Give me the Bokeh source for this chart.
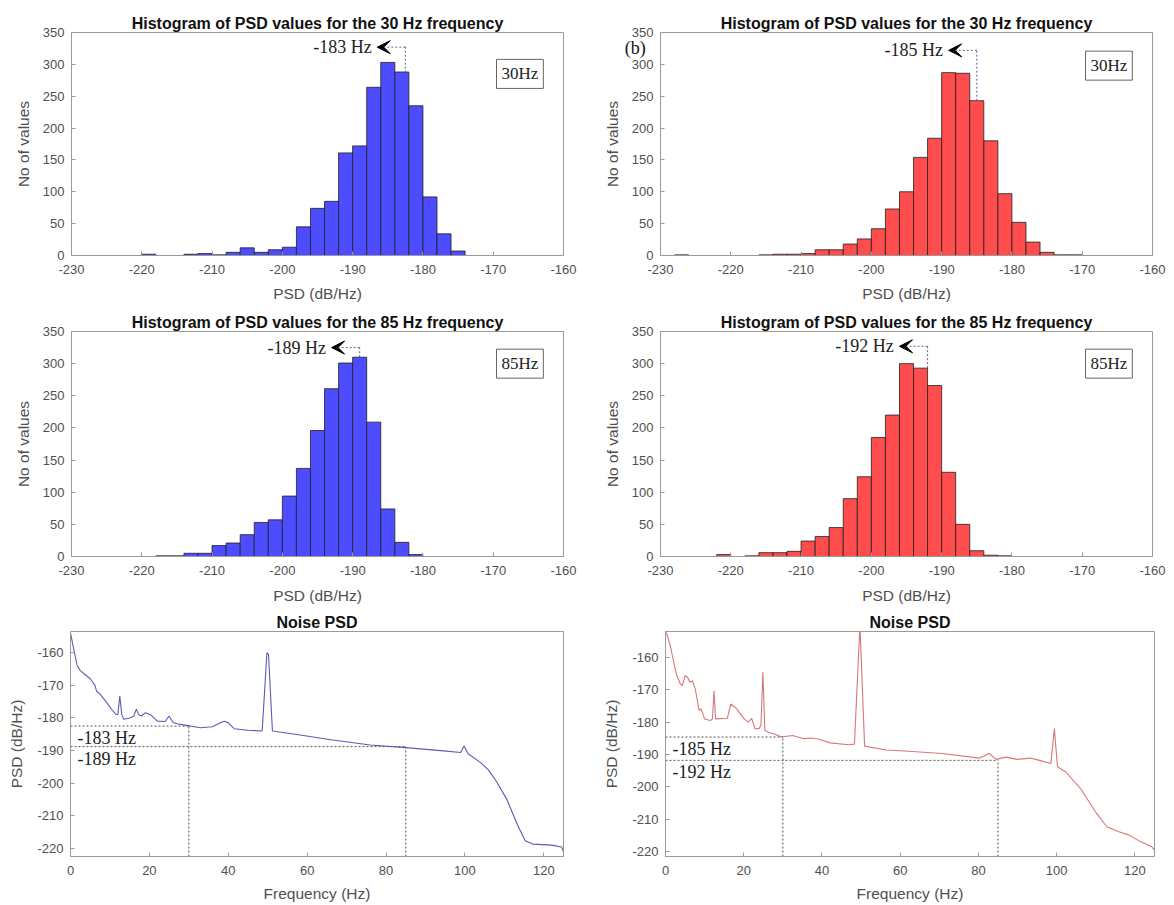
from bokeh.plotting import figure
from bokeh.models import Range1d, Label, Arrow, VeeHead, FixedTicker
from bokeh.layouts import column, row
from bokeh.embed import file_html
from bokeh.resources import INLINE

# ---------------- data ----------------
# histogram bins (left edges, width 2 dB) and counts
bins_30_a = [-220, -214, -212, -210, -208, -206, -204, -202, -200, -198, -196, -194, -192, -190,
             -188, -186, -184, -182, -180, -178, -176]
counts_30_a = [2, 2, 3, 1, 5, 12, 5, 9, 13, 45, 74, 85, 161, 172, 264, 303, 288, 235, 92, 34, 7]

bins_30_b = [-228, -216, -214, -212, -210, -208, -206, -204, -202, -200, -198, -196, -194, -192,
             -190, -188, -186, -184, -182, -180, -178, -176, -174, -172]
counts_30_b = [1, 1, 2, 2, 3, 9, 9, 18, 26, 42, 73, 100, 154, 184, 287, 286, 243, 180, 97, 52, 21,
               5, 1, 1]

bins_85_a = [-218, -216, -214, -212, -210, -208, -206, -204, -202, -200, -198, -196, -194, -192,
             -190, -188, -186, -184, -182]
counts_85_a = [1, 1, 5, 5, 17, 21, 34, 53, 57, 94, 137, 196, 261, 301, 310, 209, 74, 22, 3]

bins_85_b = [-222, -218, -216, -214, -212, -210, -208, -206, -204, -202, -200, -198, -196, -194,
             -192, -190, -188, -186, -184, -182]
counts_85_b = [3, 1, 6, 6, 8, 24, 31, 45, 90, 124, 185, 220, 300, 293, 266, 131, 50, 9, 2, 1]

bin_width = 2

# peak annotations: label, marker x, bar top under marker, arrow height
peak_labels = ["-183 Hz", "-185 Hz", "-189 Hz", "-192 Hz"]
peak_x = [-182.5, -185.0, -189.0, -192.0]
peak_bar = [287, 243, 310, 293]
peak_arrow_y = [327, 322, 325, 327]
box_labels = ["30Hz", "30Hz", "85Hz", "85Hz"]
box_y = [285, 298, 300, 300]

# noise PSD curves
freq_a = [0, 0.5, 1, 1.7, 2.5, 3.6, 5, 6.2, 6.6, 7.2, 8, 9.2, 10.5, 11.5, 12, 12.5, 13, 13.5, 15, 16,
          16.7, 17.3, 18, 19, 20.5, 22, 24, 25, 26, 27, 29, 33, 36, 38, 39, 40, 41.5, 45, 48.6, 49.8,
          50.2, 51.2, 57, 66, 76, 85, 94.6, 98.9, 99.8, 100.8, 104, 106, 108, 110.6, 113.4, 115.3,
          117.2, 122, 124.5, 125]
psd_a = [-153.9, -157, -160, -164, -165.5, -166.6, -168, -170, -171.8, -172.3, -173.5, -175.3, -177.5,
         -178.9, -179, -173.3, -179, -180.4, -180, -179.5, -177.3, -179, -179.4, -178.4, -179.2, -181,
         -181.1, -179.4, -181.4, -181.8, -182.2, -183, -182.7, -181.5, -181, -181.5, -183.3, -183.8,
         -184, -160, -160.5, -184, -185, -186.7, -188.3, -189.1, -190.1, -190.6, -188.6, -191, -193.7,
         -196, -199.5, -204.9, -213, -217.7, -218.7, -219, -219.6, -221]

freq_b = [0.2, 1, 1.4, 2.1, 2.9, 3.8, 4.3, 5, 5.7, 6.2, 6.9, 7.6, 8.6, 9.1, 10, 11.5, 12, 12.4, 12.8,
          15.8, 16.7, 18.2, 20.1, 21.2, 22, 22.9, 23.9, 24.4, 24.9, 25.4, 26.3, 27.7, 29.6, 32.5, 35.4,
          37.3, 39.2, 42.1, 46.8, 48.3, 49.7, 50.9, 56.4, 61.2, 70.7, 80.3, 82.7, 84.6, 87, 89.9, 93.2,
          95.6, 98.5, 99.4, 100.2, 102.3, 106.1, 109.9, 112.8, 115.7, 118.5, 121.4, 124.3, 125]
psd_b = [-152.3, -155.4, -157.4, -161.5, -165.6, -168.2, -168.7, -165.6, -166.2, -167.7, -167.2, -169.7,
         -176.4, -175.9, -179, -179.5, -179, -170.3, -179, -178.8, -174.4, -175.9, -179, -180, -178.8,
         -182, -182, -181, -164.6, -182.6, -183.1, -183.6, -184.6, -184.1, -185.1, -184.9, -185.3,
         -186.4, -187, -186.8, -150, -187.4, -188.6, -188.9, -189.7, -191.1, -189.7, -191.5, -190.8,
         -191.5, -191.1, -191.8, -192.8, -182, -193.8, -195.4, -200.5, -207.7, -212.3, -213.8, -214.9,
         -216.9, -218.5, -219.5]

mark_freqs = [30, 85]
levels_a = [-182.5, -188.8]
levels_b = [-184.6, -191.8]
level_labels_a = ["-183 Hz", "-189 Hz"]
level_labels_b = ["-185 Hz", "-192 Hz"]

hist_xticks = [-230, -220, -210, -200, -190, -180, -170, -160]
hist_xtick_labels = ["-230", "-220", "-210", "-200", "-190", "-180", "-170", "-160"]
hist_yticks = [0, 50, 100, 150, 200, 250, 300, 350]
hist_ytick_labels = ["0", "50", "100", "150", "200", "250", "300", "350"]
psd_xticks = [0, 20, 40, 60, 80, 100, 120]
psd_xtick_labels = ["0", "20", "40", "60", "80", "100", "120"]
psd_yticks = [-220, -210, -200, -190, -180, -170, -160]
psd_ytick_labels = ["-220", "-210", "-200", "-190", "-180", "-170", "-160"]

panel_tag = "(b)"
panel_tag_x = -233.6
panel_tag_y = 325

# ---------------- style ----------------
SANS = "Liberation Sans"
SERIF = "Liberation Serif"
AX = "#9a9a9a"
TXT = "#505050"
BLUE = "#4d4dff"
RED = "#ff4d4d"


def make_fig(title, xr, yr, fw, fh, bl, br, bt, bb):
    p = figure(frame_width=fw, frame_height=fh, min_border_left=bl, min_border_right=br,
               min_border_top=bt, min_border_bottom=bb, x_range=Range1d(*xr), y_range=Range1d(*yr),
               output_backend="svg", toolbar_location=None, title=title)
    p.title.align = "center"
    p.title.text_font = SANS
    p.title.text_font_size = "16px"
    p.title.text_font_style = "bold"
    p.title.text_color = "#111111"
    p.title.standoff = 1
    p.grid.visible = False
    p.outline_line_color = AX
    p.background_fill_color = "white"
    p.border_fill_color = "white"
    return p


def style_axes(p, xticks, xlabels, yticks, ylabels, xlabel, ylabel, xstand, ystand):
    for ax in (p.xaxis[0], p.yaxis[0]):
        ax.axis_line_color = AX
        ax.major_tick_line_color = AX
        ax.major_tick_in = 4
        ax.major_tick_out = 0
        ax.minor_tick_line_color = None
        ax.major_label_text_font = SANS
        ax.major_label_text_font_size = "13px"
        ax.major_label_text_color = TXT
        ax.axis_label_text_font = SANS
        ax.axis_label_text_font_size = "15.5px"
        ax.axis_label_text_font_style = "normal"
        ax.axis_label_text_color = TXT
    p.xaxis[0].ticker = FixedTicker(ticks=xticks)
    p.yaxis[0].ticker = FixedTicker(ticks=yticks)
    p.xaxis[0].major_label_overrides = dict(zip(xticks, xlabels))
    p.yaxis[0].major_label_overrides = dict(zip(yticks, ylabels))
    p.xaxis[0].axis_label = xlabel
    p.yaxis[0].axis_label = ylabel
    p.xaxis[0].major_label_standoff = 9
    p.yaxis[0].major_label_standoff = 7
    p.xaxis[0].axis_label_standoff = xstand
    p.yaxis[0].axis_label_standoff = ystand


def hist_fig(title, bins, counts, color, idx, bl, br, bt, bb, fh, xstand):
    p = make_fig(title, (-230, -160), (0, 350), 492, fh, bl, br, bt, bb)
    p.quad(left=bins, right=[b + bin_width for b in bins], bottom=0, top=counts,
           fill_color=color, line_color="#202020", line_width=0.8)
    style_axes(p, hist_xticks, hist_xtick_labels, hist_yticks, hist_ytick_labels,
               "PSD (dB/Hz)", "No of values", xstand, 8)
    px, ay = peak_x[idx], peak_arrow_y[idx]
    dash_col = "#4f6a96"
    p.line([px, px], [peak_bar[idx], ay + 3], line_dash="2 2", line_color=dash_col, line_width=1)
    p.add_layout(Arrow(end=VeeHead(size=13, fill_color="black", line_color="black"),
                       x_start=px, y_start=ay, x_end=px - 4, y_end=ay,
                       line_color=dash_col, line_dash="2 2", line_width=1))
    p.add_layout(Label(x=px - 4.8, y=ay, text=peak_labels[idx], text_align="right",
                       text_baseline="middle", text_font=SERIF, text_font_size="18px",
                       text_color="#222222"))
    p.add_layout(Label(x=-166.2, y=box_y[idx], text=box_labels[idx], text_align="center",
                       text_baseline="middle", text_font=SERIF, text_font_size="17px",
                       text_color="#222222", border_line_color="#666666", border_line_width=1,
                       background_fill_color="white", padding=5))
    return p


def psd_fig(freq, psd, yr, color, levels, labels, bl, br, fw):
    p = make_fig("Noise PSD", (0, 125), yr, fw, 225, bl, br, 23, 49)
    p.line(freq, psd, line_color=color, line_width=1.1)
    for f, lv, lab in zip(mark_freqs, levels, labels):
        p.line([0, f], [lv, lv], line_dash="2 2", line_color="#555555", line_width=1)
        p.line([f, f], [yr[0], lv], line_dash="2 2", line_color="#555555", line_width=1)
        p.add_layout(Label(x=1.8, y=lv - 3.7, text=lab, text_align="left", text_baseline="middle",
                           text_font=SERIF, text_font_size="18px", text_color="#222222"))
    style_axes(p, psd_xticks, psd_xtick_labels, psd_yticks, psd_ytick_labels,
               "Frequency (Hz)", "PSD (dB/Hz)", 7, 9)
    return p


t30 = "Histogram of PSD values for the 30 Hz frequency"
t85 = "Histogram of PSD values for the 85 Hz frequency"

p1 = hist_fig(t30, bins_30_a, counts_30_a, BLUE, 0, 71, 37, 32, 50, 223, 8)
p2 = hist_fig(t30, bins_30_b, counts_30_b, RED, 1, 60, 22, 32, 50, 223, 8)
p3 = hist_fig(t85, bins_85_a, counts_85_a, BLUE, 2, 71, 37, 26, 52, 225, 9)
p4 = hist_fig(t85, bins_85_b, counts_85_b, RED, 3, 60, 22, 26, 52, 225, 9)
p5 = psd_fig(freq_a, psd_a, (-222.5, -153.5), "#5b5bb5", levels_a, level_labels_a, 70, 37, 493)
p6 = psd_fig(freq_b, psd_b, (-221.5, -152.0), "#d47878", levels_b, level_labels_b, 63, 22, 489)

# panel tag "(b)": held by the (empty) right side panel so that it is not clipped to the
# frame, but positioned through the data scales in the left margin of the panel
p2.add_layout(Label(x=panel_tag_x, y=panel_tag_y, text=panel_tag, text_align="center",
                    text_baseline="middle", text_font=SERIF, text_font_size="18px",
                    text_color="#111111"), "right")

layout = column(row(p1, p2), row(p3, p4), row(p5, p6))
open("out.html", "w").write(file_html(layout, INLINE))
